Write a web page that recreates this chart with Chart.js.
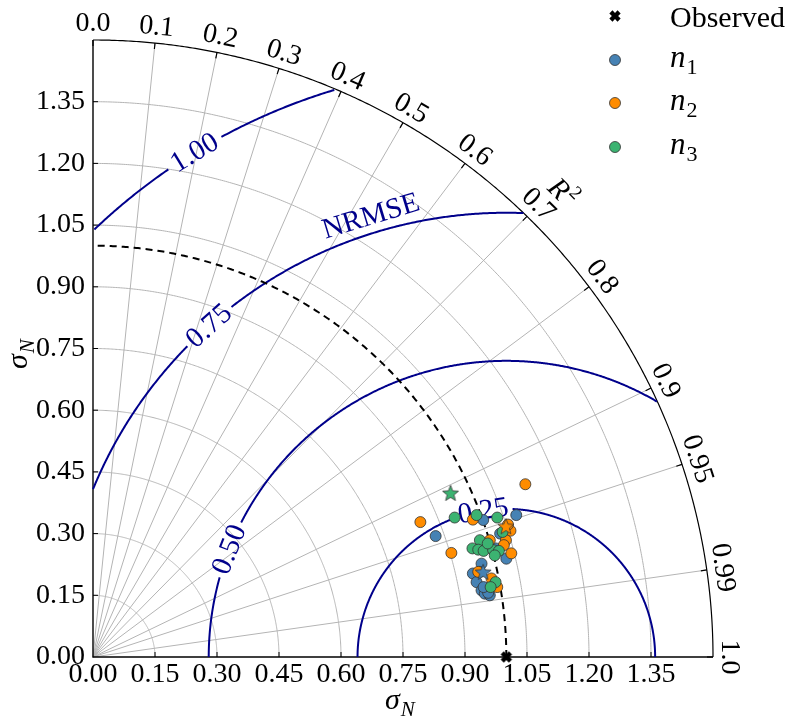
<!DOCTYPE html>
<html>
<head>
<meta charset="utf-8">
<script src="https://cdn.jsdelivr.net/npm/chart.js@4"></script>
<style>
  body { margin: 0; background: #fff; }
  canvas { display: block; }
</style>
</head>
<body>
<canvas id="taylor" width="788" height="719"></canvas>
<script>
// --- data (normalised std dev, cartesian coords of the Taylor diagram) ---
const observedX = [1.0];
const observedY = [0.0];

const n1X = [0.940, 0.936, 0.919, 0.928, 0.940, 0.948, 0.960, 1.000, 0.829, 1.024, 0.944, 0.974, 0.956, 0.945, 0.985];
const n1Y = [0.227, 0.207, 0.203, 0.182, 0.162, 0.154, 0.150, 0.239, 0.294, 0.345, 0.333, 0.264, 0.156, 0.170, 0.300];
const n1StarX = [0.944];
const n1StarY = [0.207];

const n2X = [1.046, 0.792, 0.867, 0.919, 1.010, 0.999, 0.994, 1.012, 0.960, 0.932, 0.964, 0.978, 1.004];
const n2Y = [0.420, 0.328, 0.253, 0.334, 0.307, 0.284, 0.272, 0.252, 0.284, 0.207, 0.191, 0.170, 0.322];
const n2StarX = [0.999];
const n2StarY = [0.318];

const n3X = [0.875, 0.928, 0.978, 0.991, 0.936, 0.918, 0.932, 0.945, 0.968, 0.982, 0.972, 0.974, 0.962, 0.955];
const n3Y = [0.339, 0.345, 0.339, 0.304, 0.284, 0.264, 0.261, 0.258, 0.260, 0.258, 0.247, 0.182, 0.170, 0.276];
const n3StarX = [0.865];
const n3StarY = [0.399];

// axes / grid
const sigmaMax = 1.5;
const sigmaGrid = [0.15, 0.30, 0.45, 0.60, 0.75, 0.90, 1.05, 1.20, 1.35];
const corrTicks = [0.0, 0.1, 0.2, 0.3, 0.4, 0.5, 0.6, 0.7, 0.8, 0.9, 0.95, 0.99, 1.0];
const corrTickLabels = ['0.0', '0.1', '0.2', '0.3', '0.4', '0.5', '0.6', '0.7', '0.8', '0.9', '0.95', '0.99', '1.0'];
const observedSigma = 1.0;

// NRMSE contours round the observed point
const nrmseLevels = [0.25, 0.50, 0.75, 1.00];
const nrmseLabels = ['0.25', '0.50', '0.75', '1.00'];
const nrmseRadii = [0.36, 0.72, 1.08, 1.44];

const seriesNames = ['n', 'n', 'n'];
const seriesSubs = ['1', '2', '3'];

// --- style ---
const FONT = "'Liberation Serif', 'DejaVu Serif', serif";
const NAVY = '#00008B';
const GRID = '#b4b4b4';
const COLORS = ['#4682B4', '#FF8C00', '#3CB371'];
const EDGE = '#333333';
const labelAngles = [99, 158.7, 131.8, 121.6]; // where each contour label sits (deg around observed)
const nrmseTitleAngle = 107;

Chart.defaults.font.family = FONT;

function starImage(fill) {
  const c = document.createElement('canvas');
  c.width = 20; c.height = 20;
  const g = c.getContext('2d');
  g.beginPath();
  for (let i = 0; i < 10; i++) {
    const r = i % 2 ? 3.6 : 8.4;
    const a = -Math.PI / 2 + i * Math.PI / 5;
    g.lineTo(10 + r * Math.cos(a), 10.8 + r * Math.sin(a));
  }
  g.closePath();
  g.fillStyle = fill; g.fill();
  g.strokeStyle = EDGE; g.lineWidth = 0.8; g.stroke();
  return c;
}

function xImage() {
  const c = document.createElement('canvas');
  c.width = 14; c.height = 14;
  const g = c.getContext('2d');
  g.translate(7, 7);
  g.rotate(Math.PI / 4);
  const a = 5.8, b = 2.2;
  const pts = [[-b,-a],[b,-a],[b,-b],[a,-b],[a,b],[b,b],[b,a],[-b,a],[-b,b],[-a,b],[-a,-b],[-b,-b]];
  g.beginPath();
  pts.forEach(p => g.lineTo(p[0], p[1]));
  g.closePath();
  g.fillStyle = '#000'; g.fill();
  return c;
}

const xMarker = xImage();
const toPts = (xs, ys) => xs.map((x, i) => ({ x: x, y: ys[i] }));

function pointSet(label, xs, ys, color) {
  return {
    label: label, data: toPts(xs, ys), pointRadius: 5.5, pointBackgroundColor: color,
    pointBorderColor: EDGE, pointBorderWidth: 0.8, showLine: false, clip: false
  };
}
function starSet(label, xs, ys, color) {
  return { label: label, data: toPts(xs, ys), pointStyle: starImage(color), pointRadius: 9, showLine: false, clip: false };
}

function drawSubText(ctx, base, sub, x, y, size, subItalic) {
  ctx.font = 'italic ' + size + 'px ' + FONT;
  ctx.fillText(base, x, y);
  const w = ctx.measureText(base).width;
  ctx.font = (subItalic ? 'italic ' : '') + Math.round(size * 0.7) + 'px ' + FONT;
  ctx.fillText(sub, x + w + 1, y + size * 0.24);
}

const taylorPlugin = {
  id: 'taylor',
  beforeDatasetsDraw(chart) {
    const ctx = chart.ctx, xs = chart.scales.x, ys = chart.scales.y;
    const P = (x, y) => [xs.getPixelForValue(x), ys.getPixelForValue(y)];
    const kx = xs.getPixelForValue(1) - xs.getPixelForValue(0);
    const ky = ys.getPixelForValue(0) - ys.getPixelForValue(1);
    const arc = (cx, cy, r, a0, a1) => {
      ctx.beginPath();
      for (let a = a0; a <= a1 + 1e-9; a += 0.25) {
        const t = a * Math.PI / 180;
        const p = P(cx + r * Math.cos(t), cy + r * Math.sin(t));
        a === a0 ? ctx.moveTo(p[0], p[1]) : ctx.lineTo(p[0], p[1]);
      }
      ctx.stroke();
    };
    ctx.save();

    // grey grid: std dev arcs and correlation rays
    ctx.strokeStyle = GRID; ctx.lineWidth = 1;
    sigmaGrid.forEach(r => arc(0, 0, r, 0, 90));
    corrTicks.forEach(c => {
      if (c <= 0 || c >= 1) return;
      const t = Math.acos(c);
      const o = P(0, 0), e = P(sigmaMax * Math.cos(t), sigmaMax * Math.sin(t));
      ctx.beginPath(); ctx.moveTo(o[0], o[1]); ctx.lineTo(e[0], e[1]); ctx.stroke();
    });

    // outer arc + ticks on it
    ctx.strokeStyle = '#000'; ctx.lineWidth = 1.2;
    arc(0, 0, sigmaMax, 0, 90);
    corrTicks.forEach(c => {
      const t = Math.acos(c);
      const e = P(sigmaMax * Math.cos(t), sigmaMax * Math.sin(t));
      ctx.beginPath(); ctx.moveTo(e[0], e[1]);
      ctx.lineTo(e[0] - 6 * Math.cos(t), e[1] + 6 * Math.sin(t)); ctx.stroke();
    });

    // axes lines and inward ticks
    const o = P(0, 0), xe = P(sigmaMax, 0), ye = P(0, sigmaMax);
    ctx.lineWidth = 1.4;
    ctx.beginPath(); ctx.moveTo(ye[0], ye[1]); ctx.lineTo(o[0], o[1]); ctx.lineTo(xe[0], xe[1]); ctx.stroke();
    ctx.lineWidth = 1;
    sigmaGrid.forEach(v => {
      const px = P(v, 0), py = P(0, v);
      ctx.beginPath(); ctx.moveTo(px[0], px[1]); ctx.lineTo(px[0], px[1] - 5); ctx.stroke();
      ctx.beginPath(); ctx.moveTo(py[0], py[1]); ctx.lineTo(py[0] + 5, py[1]); ctx.stroke();
    });

    // NRMSE contours with gaps for labels
    ctx.font = '29px ' + FONT;
    nrmseRadii.forEach((R, i) => {
      const w = ctx.measureText(nrmseLabels[i]).width;
      const gap = (w / 2 + 4) / (R * kx) * 180 / Math.PI;
      const la = labelAngles[i];
      ctx.strokeStyle = NAVY; ctx.lineWidth = 2;
      ctx.beginPath();
      let pen = false;
      for (let a = 0; a <= 180; a += 0.2) {
        const t = a * Math.PI / 180;
        const x = observedX[0] + R * Math.cos(t), y = observedY[0] + R * Math.sin(t);
        const inside = x >= 0 && x * x + y * y <= sigmaMax * sigmaMax && Math.abs(a - la) > gap;
        if (!inside) { pen = false; continue; }
        const p = P(x, y);
        pen ? ctx.lineTo(p[0], p[1]) : ctx.moveTo(p[0], p[1]);
        pen = true;
      }
      ctx.stroke();
      // label
      const t = la * Math.PI / 180;
      const p = P(observedX[0] + R * Math.cos(t), observedY[0] + R * Math.sin(t));
      let ang = Math.atan2(-R * Math.cos(t) * ky, -R * Math.sin(t) * kx);
      if (ang > Math.PI / 2) ang -= Math.PI;
      if (ang < -Math.PI / 2) ang += Math.PI;
      ctx.save();
      ctx.translate(p[0], p[1]); ctx.rotate(ang);
      ctx.fillStyle = NAVY; ctx.textAlign = 'center'; ctx.textBaseline = 'middle';
      ctx.fillText(nrmseLabels[i], 0, 1);
      ctx.restore();
    });

    // NRMSE title beside the 0.75 contour
    {
      const R = nrmseRadii[2], t = nrmseTitleAngle * Math.PI / 180;
      const p = P(observedX[0] + R * Math.cos(t), observedY[0] + R * Math.sin(t));
      const c = P(observedX[0], observedY[0]);
      const dx = p[0] - c[0], dy = p[1] - c[1], d = Math.hypot(dx, dy);
      let ang = Math.atan2(-R * Math.cos(t) * ky, -R * Math.sin(t) * kx);
      if (ang > Math.PI / 2) ang -= Math.PI;
      ctx.save();
      ctx.translate(p[0] + dx / d * 16, p[1] + dy / d * 16); ctx.rotate(ang);
      ctx.fillStyle = NAVY; ctx.textAlign = 'center'; ctx.textBaseline = 'middle';
      ctx.fillText('NRMSE', 0, 0);
      ctx.restore();
    }

    // dashed circle of the observed std dev
    ctx.strokeStyle = '#000'; ctx.lineWidth = 2; ctx.setLineDash([7, 5]);
    arc(0, 0, observedSigma, 0, 90);
    ctx.setLineDash([]);
    ctx.restore();
  },
  afterDraw(chart) {
    const ctx = chart.ctx, xs = chart.scales.x, ys = chart.scales.y;
    const P = (x, y) => [xs.getPixelForValue(x), ys.getPixelForValue(y)];
    ctx.save();
    ctx.fillStyle = '#000';

    // correlation labels round the outer arc
    ctx.font = '28px ' + FONT;
    ctx.textAlign = 'center'; ctx.textBaseline = 'middle';
    corrTicks.forEach((c, i) => {
      const t = Math.acos(c);
      const e = P(sigmaMax * Math.cos(t), sigmaMax * Math.sin(t));
      ctx.save();
      ctx.translate(e[0] + 16 * Math.cos(t), e[1] - 16 * Math.sin(t));
      ctx.rotate(Math.PI / 2 - t);
      ctx.fillText(corrTickLabels[i], 0, 0);
      ctx.restore();
    });

    // R^2 title
    {
      const t = 45 * Math.PI / 180;
      const e = P(sigmaMax * Math.cos(t), sigmaMax * Math.sin(t));
      ctx.save();
      ctx.translate(e[0] + 42 * Math.cos(t), e[1] - 42 * Math.sin(t));
      ctx.rotate(Math.PI / 2 - t);
      ctx.textAlign = 'left'; ctx.textBaseline = 'alphabetic';
      ctx.font = 'italic 29px ' + FONT;
      ctx.fillText('R', -12, 9);
      ctx.font = '19px ' + FONT;
      ctx.fillText('2', 7, -3);
      ctx.restore();
    }

    // axis titles
    ctx.textAlign = 'left'; ctx.textBaseline = 'alphabetic';
    drawSubText(ctx, 'σ', 'N', 385, 709, 30, true);
    ctx.save();
    ctx.translate(27, 369); ctx.rotate(-Math.PI / 2);
    drawSubText(ctx, 'σ', 'N', 0, 0, 30, true);
    ctx.restore();

    // legend
    const lx = 615, tx = 670, rows = [16, 60, 103, 147];
    ctx.drawImage(xMarker, lx - 7, rows[0] - 7);
    ctx.font = '30px ' + FONT;
    ctx.fillText('Observed', tx, rows[0] + 11);
    COLORS.forEach((col, i) => {
      const y = rows[i + 1];
      ctx.beginPath(); ctx.arc(lx, y, 5.5, 0, Math.PI * 2);
      ctx.fillStyle = col; ctx.fill();
      ctx.strokeStyle = EDGE; ctx.lineWidth = 0.8; ctx.stroke();
      ctx.fillStyle = '#000';
      drawSubText(ctx, seriesNames[i], seriesSubs[i], tx, y + 7, 31, false);
    });
    ctx.restore();
  }
};

const tickCb = v => Math.abs(v - sigmaMax) < 1e-6 ? null : v.toFixed(2);

new Chart(document.getElementById('taylor'), {
  type: 'scatter',
  data: {
    datasets: [
      { label: 'Observed', data: toPts(observedX, observedY), pointStyle: xMarker, pointRadius: 7, clip: false },
      starSet('n3 mean', n3StarX, n3StarY, COLORS[2]),
      starSet('n2 mean', n2StarX, n2StarY, COLORS[1]),
      starSet('n1 mean', n1StarX, n1StarY, COLORS[0]),
      pointSet('n3', n3X, n3Y, COLORS[2]),
      pointSet('n2', n2X, n2Y, COLORS[1]),
      pointSet('n1', n1X, n1Y, COLORS[0])
    ]
  },
  options: {
    responsive: false,
    animation: false,
    events: [],
    layout: { padding: { top: 40, right: 75, left: 0, bottom: 0 } },
    plugins: { legend: { display: false }, tooltip: { enabled: false } },
    scales: {
      x: {
        type: 'linear', min: 0, max: sigmaMax,
        grid: { display: false, drawTicks: false },
        border: { display: false },
        ticks: { stepSize: 0.15, callback: tickCb, autoSkip: false, maxRotation: 0, padding: 1,
                 color: '#000', font: { size: 28, family: FONT } },
        afterFit: s => { s.height = 62; }
      },
      y: {
        type: 'linear', min: 0, max: sigmaMax,
        grid: { display: false, drawTicks: false },
        border: { display: false },
        ticks: { stepSize: 0.15, callback: tickCb, autoSkip: false, padding: 8,
                 color: '#000', font: { size: 28, family: FONT } },
        afterFit: s => { s.width = 93; }
      }
    }
  },
  plugins: [taylorPlugin]
});
</script>
</body>
</html>
